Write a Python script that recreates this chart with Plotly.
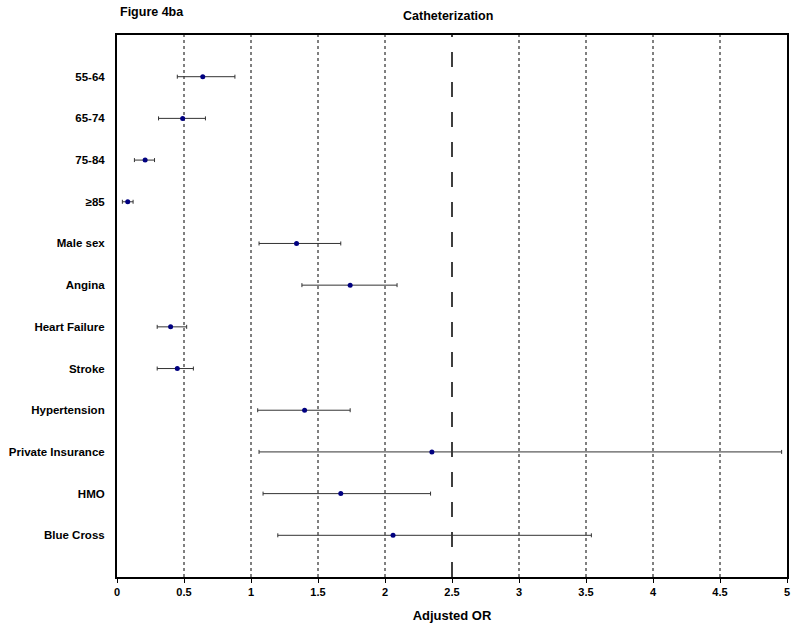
import plotly.graph_objects as go

# forest plot data
factors = ['55-64', '65-74', '75-84', '\u226585', 'Male sex', 'Angina', 'Heart Failure',
           'Stroke', 'Hypertension', 'Private Insurance', 'HMO', 'Blue Cross']
odds_ratio = [0.64, 0.49, 0.21, 0.08, 1.34, 1.74, 0.40, 0.45, 1.40, 2.35, 1.67, 2.06]
ci_low = [0.45, 0.31, 0.13, 0.04, 1.06, 1.38, 0.30, 0.30, 1.05, 1.06, 1.09, 1.20]
ci_high = [0.88, 0.66, 0.28, 0.12, 1.67, 2.09, 0.52, 0.57, 1.74, 4.96, 2.34, 3.54]
x_ticks = [0, 0.5, 1, 1.5, 2, 2.5, 3, 3.5, 4, 4.5, 5]
ref_line = 2.5

rows = list(range(1, len(factors) + 1))
err_plus = [h - o for h, o in zip(ci_high, odds_ratio)]
err_minus = [o - l for o, l in zip(odds_ratio, ci_low)]

fnt = dict(family='Liberation Sans, Arial, sans-serif', size=11, color='black')

fig = go.Figure()
fig.add_trace(go.Scatter(
    x=odds_ratio, y=rows, mode='markers',
    marker=dict(color='#000080', size=5),
    error_x=dict(type='data', symmetric=False, array=err_plus, arrayminus=err_minus,
                 color='#333333', thickness=1, width=2),
    showlegend=False,
))

# grid lines: dotted, reference line long-dashed
for t in x_ticks[1:-1]:
    fig.add_shape(type='line', xref='x', yref='paper', x0=t, x1=t, y0=0, y1=1,
                  line=dict(color='black', width=1.5 if t == ref_line else 1,
                            dash='longdash' if t == ref_line else 'dot'),
                  layer='below')

fig.update_layout(
    width=800, height=634,
    margin=dict(l=117, r=13, t=35, b=57, autoexpand=False),
    paper_bgcolor='white', plot_bgcolor='white',
    font=fnt,
    annotations=[
        dict(text='<b>Figure 4ba</b>', x=1 / 670, y=1 + 23 / 542, xref='paper', yref='paper',
             xanchor='left', yanchor='middle', showarrow=False, font=dict(size=12.5)),
        dict(text='<b>Catheterization</b>', x=0.494, y=1 + 19 / 542, xref='paper', yref='paper',
             yanchor='middle', showarrow=False, font=dict(size=12.5)),
    ],
)

fig.update_xaxes(range=[0, 5], tickvals=x_ticks,
                 ticktext=['<b>%g</b>' % t for t in x_ticks],
                 showgrid=False, zeroline=False, automargin=False,
                 showline=True, linecolor='black', linewidth=2, mirror=True,
                 ticks='outside', ticklen=4, tickcolor='black',
                 title=dict(text='<b>Adjusted OR</b>', standoff=14))
fig.update_yaxes(range=[13, 0], tickvals=rows,
                 ticktext=['<b>%s</b>' % f for f in factors],
                 tickfont=dict(size=11.5),
                 showgrid=False, zeroline=False, automargin=False,
                 showline=True, linecolor='black', linewidth=2, mirror=True,
                 ticks='', ticklabelstandoff=8)

# drop the default page margin so the figure sits at the window's corner
fig.write_html('out.html', config={'displayModeBar': False},
               post_script="document.body.style.margin='0';")
